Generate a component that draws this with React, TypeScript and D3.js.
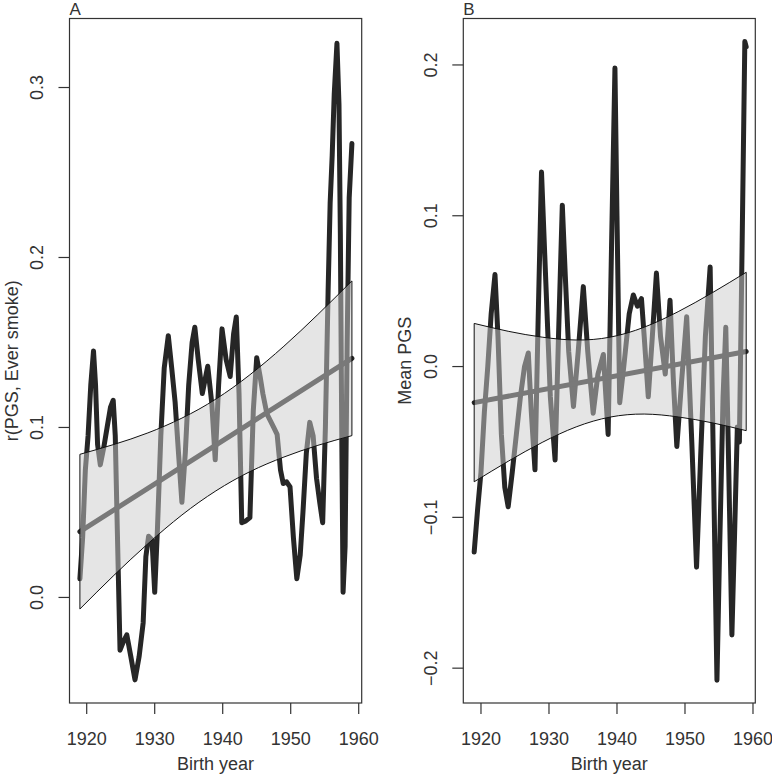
import { useEffect, useRef } from "react";
import * as d3 from "d3";

// panel A: correlation of PGS with ever smoking, by birth year
const yearsA = [
  1919.0, 1919.4, 1919.8, 1920.2, 1920.6, 1921.0, 1921.3, 1921.6, 1922.0, 1922.5,
  1923.0, 1923.5, 1923.9, 1924.2, 1924.5, 1924.9, 1925.4, 1925.9, 1926.5, 1927.1,
  1927.7, 1928.3, 1928.7, 1929.1, 1929.6, 1930.0, 1930.4, 1930.9, 1931.4, 1932.0,
  1932.5, 1933.0, 1933.5, 1934.0, 1934.5, 1935.0, 1935.5, 1935.9, 1936.4, 1937.0,
  1937.8, 1938.4, 1938.9, 1939.4, 1939.9, 1940.5, 1941.1, 1941.6, 1942.0, 1942.4,
  1942.8, 1943.4, 1944.0, 1944.5, 1945.0, 1945.5, 1945.9, 1946.5, 1947.0, 1947.5,
  1948.0, 1948.5, 1948.9, 1949.4, 1949.9, 1950.4, 1950.9, 1951.4, 1951.8, 1952.3,
  1952.8, 1953.3, 1953.8, 1954.3, 1954.7, 1955.1, 1955.5, 1955.8, 1956.1, 1956.4,
  1956.8, 1957.1, 1957.3, 1957.5, 1957.7, 1958.0, 1958.3, 1958.6, 1959.0,
];
const valuesA = [
  0.011, 0.035, 0.075, 0.095, 0.125, 0.145, 0.125, 0.09, 0.078, 0.088,
  0.1, 0.112, 0.116, 0.095, 0.04, -0.031, -0.026, -0.022, -0.035, -0.0485,
  -0.035, -0.015, 0.024, 0.036, 0.034, 0.003, 0.04, 0.095, 0.135, 0.154,
  0.135, 0.115, 0.085, 0.056, 0.085, 0.125, 0.15, 0.159, 0.14, 0.12,
  0.136, 0.114, 0.081, 0.125, 0.158, 0.14, 0.13, 0.155, 0.165, 0.12,
  0.044, 0.045, 0.047, 0.11, 0.141, 0.13, 0.12, 0.108, 0.104, 0.1,
  0.096, 0.075, 0.067, 0.068, 0.065, 0.035, 0.011, 0.025, 0.05, 0.085,
  0.103, 0.095, 0.07, 0.055, 0.044, 0.1, 0.18, 0.232, 0.26, 0.296,
  0.326, 0.29, 0.214, 0.1, 0.003, 0.03, 0.15, 0.235, 0.267,
];

// panel B: mean PGS by birth year
const yearsB = [
  1919.0, 1919.5, 1920.0, 1920.5, 1921.0, 1921.5, 1922.06, 1922.5, 1923.0, 1923.5,
  1924.0, 1924.6, 1925.2, 1925.8, 1926.4, 1926.96, 1927.4, 1927.94, 1928.4, 1928.9,
  1929.5, 1930.2, 1930.9, 1931.4, 1931.96, 1932.4, 1932.9, 1933.6, 1934.3, 1935.05,
  1935.7, 1936.5, 1937.2, 1938.0, 1938.7, 1939.2, 1939.7, 1940.0, 1940.4, 1941.0,
  1941.8, 1942.4, 1943.0, 1943.6, 1944.0, 1944.6, 1945.2, 1945.8, 1946.4, 1947.1,
  1947.8, 1948.3, 1948.8, 1949.5, 1950.25, 1951.0, 1951.7, 1952.3, 1953.0, 1953.7,
  1954.2, 1954.7, 1955.1, 1955.6, 1956.0, 1956.4, 1956.9, 1957.3, 1957.7, 1958.0,
  1958.4, 1958.8, 1959.0,
];
const valuesB = [
  -0.123, -0.095, -0.07, -0.03, 0.0, 0.035, 0.061, 0.02, -0.045, -0.08,
  -0.093, -0.07, -0.045, -0.02, 0.0, 0.009, -0.03, -0.0685, 0.03, 0.129,
  0.06, -0.02, -0.062, 0.02, 0.107, 0.06, 0.01, -0.0265, 0.01, 0.053,
  0.01, -0.031, -0.005, 0.008, -0.045, 0.08, 0.198, 0.1, -0.024, 0.0,
  0.035, 0.0475, 0.04, 0.045, 0.02, -0.02, 0.02, 0.062, 0.02, -0.005,
  0.044, -0.01, -0.053, -0.01, 0.033, -0.05, -0.133, -0.06, 0.02, 0.066,
  -0.07, -0.208, -0.12, -0.02, 0.026, -0.06, -0.178, -0.11, -0.04, -0.05,
  0.08, 0.2155, 0.212,
];

// fitted trend and its confidence band
const fitYears = [1919, 1959];
const fitA = [0.0387, 0.1407];
const fitB = [-0.0239, 0.01];
const bandYears = [1919, 1924, 1929, 1934, 1939, 1944, 1949, 1954, 1959];
const upperA = [0.0842, 0.09, 0.0968, 0.1055, 0.1167, 0.131, 0.1478, 0.1665, 0.1862];
const lowerA = [-0.0068, 0.013, 0.0316, 0.0485, 0.0627, 0.074, 0.0826, 0.0895, 0.0952];
const upperB = [0.0286, 0.0234, 0.0195, 0.0176, 0.0195, 0.0261, 0.0364, 0.0489, 0.0625];
const lowerB = [-0.0764, -0.0628, -0.0503, -0.04, -0.0335, -0.0315, -0.0334, -0.0373, -0.0425];

const xTicks = [1920, 1930, 1940, 1950, 1960];
const yTicksA = [0.0, 0.1, 0.2, 0.3];
const yTicksB = [-0.2, -0.1, 0.0, 0.1, 0.2];

const FONT = "'Liberation Sans', Arial, Helvetica, sans-serif";
const INK = "#333";
const LINE = "#262626";

const drawPanel = (root, p) => {
  const top = 18.5;
  const bottom = 703;
  const x = d3.scaleLinear().domain(p.xDomain).range([p.left, p.right]);
  const y = d3.scaleLinear().domain(p.yDomain).range([bottom, top]);
  const g = root.append("g");

  const line = d3
    .line()
    .x((d) => x(d[0]))
    .y((d) => y(d[1]));

  // data series
  g.append("path")
    .datum(p.years.map((yr, i) => [yr, p.values[i]]))
    .attr("d", line)
    .attr("fill", "none")
    .attr("stroke", LINE)
    .attr("stroke-width", 5)
    .attr("stroke-linejoin", "round")
    .attr("stroke-linecap", "round");

  // trend line
  g.append("path")
    .datum(fitYears.map((yr, i) => [yr, p.fit[i]]))
    .attr("d", line)
    .attr("fill", "none")
    .attr("stroke", LINE)
    .attr("stroke-width", 5)
    .attr("stroke-linecap", "round");

  // confidence band on top
  const band = d3
    .area()
    .x((d) => x(d[0]))
    .y0((d) => y(d[2]))
    .y1((d) => y(d[1]))
    .curve(d3.curveNatural);
  const bandData = bandYears.map((yr, i) => [yr, p.upper[i], p.lower[i]]);
  g.append("path")
    .datum(bandData)
    .attr("d", band)
    .attr("fill", "rgb(204,204,204)")
    .attr("fill-opacity", 0.5)
    .attr("stroke", "none");

  const edge = d3
    .line()
    .x((d) => x(d[0]))
    .y((d) => y(d[1]))
    .curve(d3.curveNatural);
  g.append("path")
    .datum(bandData.map((d) => [d[0], d[1]]))
    .attr("d", edge)
    .attr("fill", "none")
    .attr("stroke", "#111")
    .attr("stroke-width", 1);
  g.append("path")
    .datum(bandData.map((d) => [d[0], d[2]]))
    .attr("d", edge)
    .attr("fill", "none")
    .attr("stroke", "#111")
    .attr("stroke-width", 1);
  [0, bandData.length - 1].forEach((i) => {
    g.append("line")
      .attr("x1", x(bandData[i][0]))
      .attr("x2", x(bandData[i][0]))
      .attr("y1", y(bandData[i][1]))
      .attr("y2", y(bandData[i][2]))
      .attr("stroke", "#111")
      .attr("stroke-width", 1);
  });

  // box
  g.append("rect")
    .attr("x", p.left)
    .attr("y", top)
    .attr("width", p.right - p.left)
    .attr("height", bottom - top)
    .attr("fill", "none")
    .attr("stroke", INK)
    .attr("stroke-width", 1.2);

  // x axis
  xTicks.forEach((t) => {
    g.append("line")
      .attr("x1", x(t))
      .attr("x2", x(t))
      .attr("y1", bottom)
      .attr("y2", bottom + 11)
      .attr("stroke", INK)
      .attr("stroke-width", 1.2);
    g.append("text")
      .attr("x", x(t))
      .attr("y", 745)
      .attr("text-anchor", "middle")
      .attr("font-family", FONT)
      .attr("font-size", 18)
      .attr("fill", INK)
      .text(t);
  });
  g.append("text")
    .attr("x", (p.left + p.right) / 2)
    .attr("y", 770)
    .attr("text-anchor", "middle")
    .attr("font-family", FONT)
    .attr("font-size", 18)
    .attr("fill", INK)
    .text("Birth year");

  // y axis
  const fmt = d3.format(".1f");
  p.yTicks.forEach((t) => {
    g.append("line")
      .attr("x1", p.left - 11)
      .attr("x2", p.left)
      .attr("y1", y(t))
      .attr("y2", y(t))
      .attr("stroke", INK)
      .attr("stroke-width", 1.2);
    g.append("text")
      .attr("transform", `translate(${p.left - 26.5},${y(t)}) rotate(-90)`)
      .attr("text-anchor", "middle")
      .attr("font-family", FONT)
      .attr("font-size", 18)
      .attr("fill", INK)
      .text(fmt(t));
  });
  g.append("text")
    .attr("transform", `translate(${p.left - 52},${(top + bottom) / 2}) rotate(-90)`)
    .attr("text-anchor", "middle")
    .attr("font-family", FONT)
    .attr("font-size", 18)
    .attr("fill", INK)
    .text(p.yLabel);

  g.append("text")
    .attr("x", p.left)
    .attr("y", 15)
    .attr("font-family", FONT)
    .attr("font-size", 17)
    .attr("fill", INK)
    .text(p.tag);
};

const App = () => {
  const svgRef = useRef();

  useEffect(() => {
    const svg = d3.select(svgRef.current);
    svg.selectAll("*").remove();

    drawPanel(svg, {
      tag: "A",
      left: 69.5,
      right: 361.7,
      xDomain: [1917.47, 1960.44],
      yDomain: [-0.0621, 0.3406],
      years: yearsA,
      values: valuesA,
      fit: fitA,
      upper: upperA,
      lower: lowerA,
      yTicks: yTicksA,
      yLabel: "r(PGS, Ever smoke)",
    });

    drawPanel(svg, {
      tag: "B",
      left: 463.3,
      right: 755.3,
      xDomain: [1917.4, 1960.34],
      yDomain: [-0.2231, 0.2308],
      years: yearsB,
      values: valuesB,
      fit: fitB,
      upper: upperB,
      lower: lowerB,
      yTicks: yTicksB,
      yLabel: "Mean PGS",
    });
  }, []);

  return (
    <svg
      ref={svgRef}
      width={772}
      height={776}
      style={{ position: "absolute", left: 0, top: 0, background: "#fff" }}
    ></svg>
  );
};

export default App;
